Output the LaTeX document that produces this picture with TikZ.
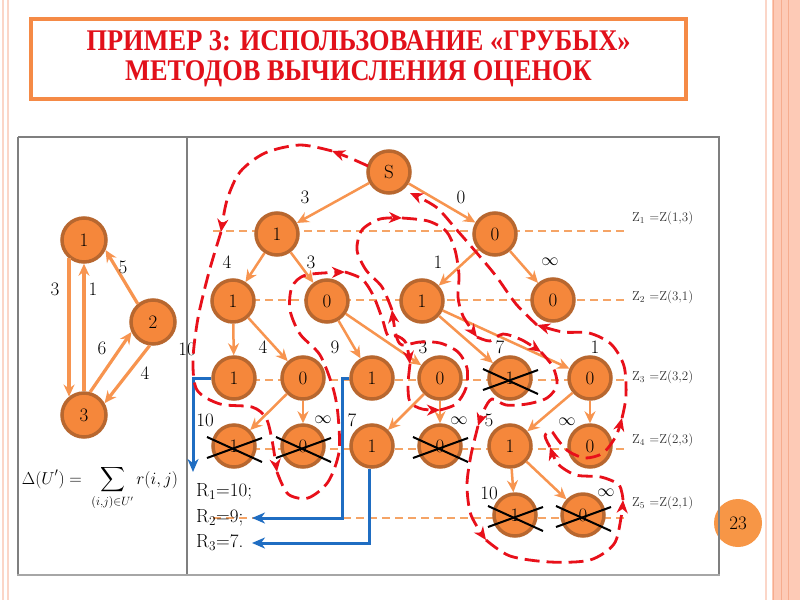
\documentclass[tikz,border=0pt]{standalone}
\usepackage{amsmath}
\usepackage{exscale}
\usepackage{fontspec}
\newfontfamily\titlefont{Liberation Serif}
\usetikzlibrary{arrows.meta}
\definecolor{norange}{HTML}{F5873B}
\definecolor{nbrown}{HTML}{B8672F}
\definecolor{eorange}{HTML}{F7944F}
\definecolor{lvlorange}{HTML}{F5A466}
\definecolor{titlered}{HTML}{E2101A}
\definecolor{tborder}{HTML}{F58A46}
\definecolor{pathred}{HTML}{E8101A}
\definecolor{rblue}{HTML}{1F6DC2}
\definecolor{gridgray}{HTML}{7F7F7F}
\definecolor{pinkband}{HTML}{FDCAB6}
\definecolor{pinkline}{HTML}{F6AC8E}
\definecolor{pinkfaint}{HTML}{FBD6C8}
\definecolor{porange}{HTML}{F79646}
\definecolor{zgray}{HTML}{333333}
\newcommand\XoutNode[1]{%
  \draw[xl] ([shift={(-27,-9)}]#1.center) -- ([shift={(28,16)}]#1.center);
  \draw[xl] ([shift={(-27,12)}]#1.center) -- ([shift={(28,-8)}]#1.center);}
\begin{document}
\begin{tikzpicture}[x=1pt,y=-1pt,
  tn/.style={circle,fill=norange,draw=nbrown,line width=3.5pt,minimum size=42pt,inner sep=0pt,font=\fontsize{19}{19}\selectfont},
  gn/.style={tn,minimum size=44pt},
  ed/.style={draw=eorange,line width=2.5pt,-{Stealth[length=12pt,width=11pt,inset=4pt]}},
  lab/.style={inner sep=0pt,font=\fontsize{19}{19}\selectfont},
  zlab/.style={anchor=west,inner sep=0pt,text=zgray,font=\fontsize{13}{13}\selectfont},
  rlab/.style={anchor=west,inner sep=0pt,font=\fontsize{19}{19}\selectfont},
  lvl/.style={draw=lvlorange,line width=1.5pt,dash pattern=on 8pt off 5pt},
  xl/.style={draw=black,line width=2pt},
  bl/.style={draw=rblue,line width=3pt,-{Stealth[length=13pt,width=11pt,inset=4pt]}},
  rp/.style={draw=pathred,line width=2.8pt,dash pattern=on 15pt off 7pt},
  ra/.style={rp,-{Stealth[length=13pt,width=11pt,inset=4pt]}},
]
\useasboundingbox (0,0) rectangle (800,600);
% page decoration
\fill[white] (0,0) rectangle (800,600);
\fill[pinkband] (772,0) rectangle (800,600);
\draw[pinkline,line width=1pt] (773.5,0) -- (773.5,600);
\draw[pinkline,line width=1pt] (781,0) -- (781,600);
\draw[pinkline,line width=1pt] (788,0) -- (788,600);
\draw[pinkfaint,line width=2pt] (766,0) -- (766,600);
\draw[pinkfaint,line width=2pt] (3,0) -- (3,600);
\draw[pinkfaint,line width=1.2pt] (8,0) -- (8,600);
% title
\node (title) [draw=tborder,line width=3.5pt,minimum width=655pt,minimum height=80pt,align=center,
  text=titlered,font=\titlefont\bfseries\fontsize{30}{30}\selectfont] at (358.5,59)
  {\scalebox{0.88}[1]{ПРИМЕР 3: ИСПОЛЬЗОВАНИЕ «ГРУБЫХ»}\\\scalebox{0.88}[1]{МЕТОДОВ ВЫЧИСЛЕНИЯ ОЦЕНОК}};
% page number
\node (pg) [circle,fill=porange,minimum size=48pt,inner sep=0pt,font=\fontsize{19}{19}\selectfont] at (738,523) {23};
% table
\draw[gridgray,line width=1.2pt] (18,137) -- (720,137);
\draw[gridgray,line width=1.2pt] (18,137) -- (18,575);
\draw[gridgray,line width=1.2pt] (187,137) -- (187,575);
\draw[gridgray,line width=1.2pt] (719,137) -- (719,575);
\draw[gray!70,line width=2.5pt] (17,575) -- (720,575);
% left graph
\node (n1) [gn] at (84,240) {1};
\node (n2) [gn] at (153,322) {2};
\node (n3) [gn] at (84,415) {3};
\draw[ed,line width=3.2pt] (n1.231) -- (n3.129);
\draw[ed,line width=3.2pt] (n3.north) -- (n1.south);
\draw[ed,line width=3.2pt] (n2.130) -- (n1.-25);
\draw[ed,line width=3.2pt] (n3.75) -- (n2.205);
\draw[ed,line width=3.2pt] (n2.262) -- (n3.30);
\node (g3) [lab] at (55,289) {3};
\node (g1) [lab] at (93,289) {1};
\node (g5) [lab] at (123,267) {5};
\node (g6) [lab] at (102,348) {6};
\node (g4) [lab] at (145,373) {4};
\node (formula) [inner sep=0pt,font=\fontsize{17}{17}\selectfont] at (100,488)
  {$\displaystyle \Delta(U')=\;\sum_{(i,j)\in U'} r(i,j)$};
% level lines
\draw[lvl] (213,231) -- (625,231);
\draw[lvl] (213,300) -- (625,300);
\draw[lvl] (213,380) -- (625,380);
\draw[lvl] (213,449) -- (625,449);
\draw[lvl] (213,518) -- (625,518);
\node (z1) [zlab] at (632,218) {Z\textsubscript{1} =Z(1,3)};
\node (z2) [zlab] at (632,297) {Z\textsubscript{2} =Z(3,1)};
\node (z3) [zlab] at (632,377) {Z\textsubscript{3} =Z(3,2)};
\node (z4) [zlab] at (632,440) {Z\textsubscript{4} =Z(2,3)};
\node (z5) [zlab] at (632,503) {Z\textsubscript{5} =Z(2,1)};
% tree nodes
\node (S) [tn] at (389,172) {S};
\node (A) [tn] at (277,234) {1};
\node (B) [tn] at (495,234) {0};
\node (C) [tn] at (233,301) {1};
\node (D) [tn] at (327,301) {0};
\node (E) [tn] at (422,301) {1};
\node (F) [tn] at (553,300) {0};
\node (G) [tn] at (234,378) {1};
\node (H) [tn] at (303,378) {0};
\node (I) [tn] at (372,378) {1};
\node (J) [tn] at (440,378) {0};
\node (K) [tn] at (510,378) {1};
\node (L) [tn] at (590,378) {0};
\node (M) [tn] at (234,446) {1};
\node (N) [tn] at (303,446) {0};
\node (O) [tn] at (372,446) {1};
\node (P) [tn] at (440,446) {0};
\node (Q) [tn] at (510,446) {1};
\node (Rn) [tn] at (590,446) {0};
\node (T) [tn] at (515,515) {1};
\node (U) [tn] at (583,515) {0};
% tree edges
\foreach \a/\b in {S/A,S/B,A/C,A/D,B/E,B/F,C/G,C/H,D/I,D/J,E/K,E/L,H/M,H/N,J/O,J/P,L/Q,L/Rn,Q/T,Q/U}
  \draw[ed] (\a) -- (\b);
% edge labels
\node (e1) [lab] at (305,197) {3};
\node (e2) [lab] at (461,197) {0};
\node (e3) [lab] at (227,262) {4};
\node (e4) [lab] at (311,262) {3};
\node (e5) [lab] at (438,262) {1};
\node (e6) [lab] at (550,262) {$\infty$};
\node (e7) [lab] at (187,349) {10};
\node (e8) [lab] at (263,347) {4};
\node (e9) [lab] at (335,347) {9};
\node (e10) [lab] at (423,347) {3};
\node (e11) [lab] at (500,347) {7};
\node (e12) [lab] at (595,347) {1};
\node (e13) [lab] at (205,420) {10};
\node (e14) [lab] at (323,420) {$\infty$};
\node (e15) [lab] at (352,420) {7};
\node (e16) [lab] at (459,421) {$\infty$};
\node (e17) [lab] at (489,420) {5};
\node (e18) [lab] at (567,422) {$\infty$};
\node (e19) [lab] at (489,493) {10};
\node (e20) [lab] at (606,493) {$\infty$};
% crossed nodes
\XoutNode{K}
\XoutNode{M}
\XoutNode{N}
\XoutNode{P}
\XoutNode{T}
\XoutNode{U}
% records
\node (R1) [rlab] at (196,492) {R\textsubscript{1}=10;};
\node (R2) [rlab] at (196,518) {R\textsubscript{2}=9;};
\node (R3) [rlab] at (196,543) {R\textsubscript{3}=7.};
\coordinate (b1) at (193,472);
\coordinate (b2) at (252,518);
\coordinate (b3) at (252,543);
\draw[bl] (G.west) -| (b1);
\draw[bl] (I.west) -- ++(-7,0) |- (b2);
\draw[bl] ([xshift=-3pt]O.south) |- (b3);
% red traversal path
\draw[ra] plot[smooth] coordinates {(368,166) (350,158) (332,151)};
\draw[ra] plot[smooth] coordinates {(332,151) (300,145) (265,153) (240,172) (227,200) (221,232)};
\draw[ra] plot[smooth] coordinates {(221,232) (209,272) (198,318) (193,360) (197,390) (220,404) (252,407) (266,418) (272,440) (277,472)};
\draw[ra] plot[smooth] coordinates {(277,472) (288,494) (308,498) (328,482) (339,452) (338,415) (333,388) (320,355) (300,334) (290,310) (292,287) (306,275) (345,272)};
\draw[ra] plot[smooth] coordinates {(345,272) (362,279) (373,295) (382,318) (388,336) (397,336) (406,343) (410,364)};
\draw[ra] plot[smooth] coordinates {(410,364) (408,385) (410,402) (422,409) (440,410)};
\draw[ra] plot[smooth] coordinates {(440,410) (456,404) (466,388) (467,368) (458,352) (440,343) (420,342) (402,345) (396,335) (392,310)};
\draw[ra] plot[smooth] coordinates {(392,310) (382,287) (366,270) (357,250) (362,230) (380,219) (402,218)};
\draw[ra] plot[smooth] coordinates {(402,218) (428,221) (446,231) (455,250) (459,275) (458,297) (463,316) (477,337)};
\draw[ra] plot[smooth] coordinates {(477,337) (490,341) (503,334) (522,340) (541,352)};
\draw[ra] plot[smooth] coordinates {(541,352) (553,367) (557,385) (547,398) (527,404) (506,405) (492,399) (484,410) (478,426)};
\draw[ra] plot[smooth] coordinates {(478,426) (471,455) (467,485) (471,515) (486,540)};
\draw[ra] plot[smooth] coordinates {(486,540) (510,556) (550,562) (590,560) (614,544) (621,518) (623,500)};
\draw[ra] plot[smooth] coordinates {(623,500) (619,485) (601,477) (576,475) (558,464) (550,447)};
\draw[ra] plot[smooth] coordinates {(550,447) (545,436) (551,431) (558,440) (568,451) (585,458) (603,453) (616,436) (622,418)};
\draw[ra] plot[smooth] coordinates {(622,418) (626,396) (624,366) (611,344) (589,333) (563,332) (537,325)};
\draw[ra] plot[smooth] coordinates {(537,325) (516,304) (496,276) (476,252) (456,229) (436,207) (410,193)};
\end{tikzpicture}
\end{document}
